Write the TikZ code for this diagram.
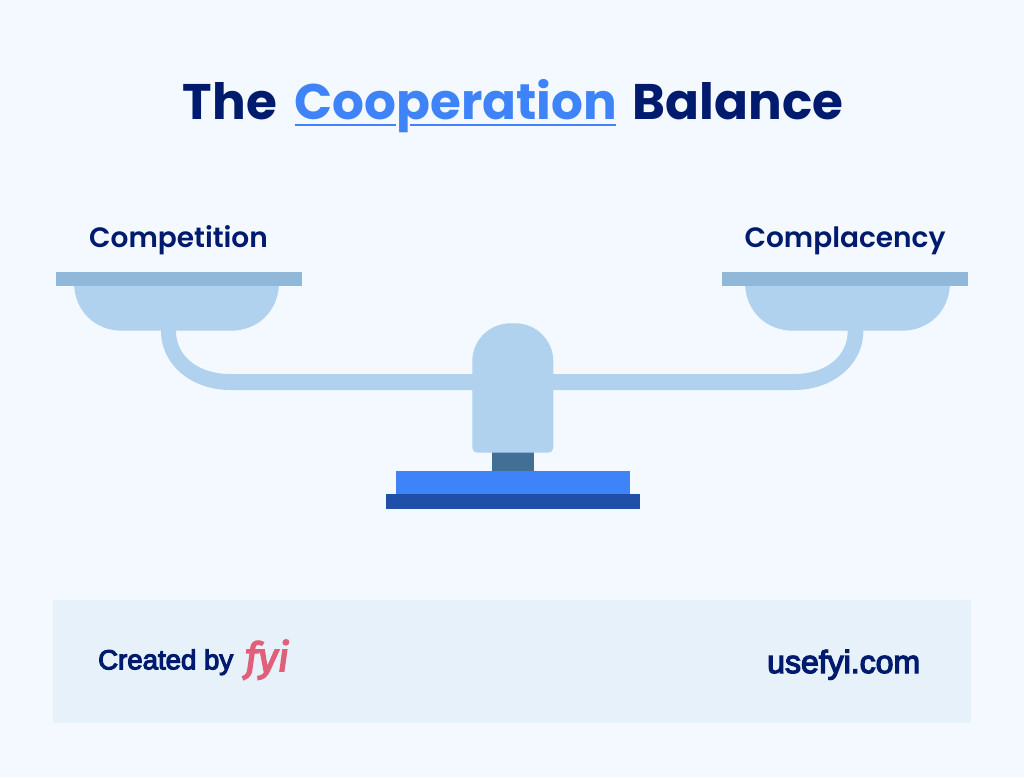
\documentclass[tikz,border=0pt]{standalone}
\usepackage{fontspec}
\setmainfont{Poppins}
\newfontfamily\labelfont{Poppins SemiBold}
\newfontfamily\footfont[FakeBold=4]{Liberation Sans}
\newfontfamily\fyifont[FakeBold=4]{Fira Sans}
\definecolor{bgc}{HTML}{F3F9FF}
\definecolor{footc}{HTML}{E6F1FA}
\definecolor{lightc}{HTML}{B0D2EE}
\definecolor{platec}{HTML}{91B8D9}
\definecolor{neckc}{HTML}{426F96}
\definecolor{bluec}{HTML}{3F83F8}
\definecolor{darkc}{HTML}{1F4FA8}
\definecolor{navyc}{HTML}{001A6E}
\definecolor{fyic}{HTML}{E0607A}
\newcommand{\undertext}[1]{\vtop{\hbox{\smash{#1}}\nointerlineskip\kern4.2pt\hbox{\vrule height 1.8pt width 101.7pt\kern14pt\vrule height 1.8pt width 205.3pt}}}
\tikzset{
  x=1pt,y=-1pt,
  label/.style={inner sep=0pt,text=navyc,anchor=base,font=\labelfont\fontsize{28}{32}\selectfont},
  foot/.style={inner sep=0pt,text=navyc,anchor=base west},
}
\begin{document}
\begin{tikzpicture}
\useasboundingbox (0,0) rectangle (1024,777);
\fill[bgc] (0,0) rectangle (1024,777);
\fill[footc] (53,600) rectangle (971,723);
% left arm
\fill[lightc] (161,328) -- (161,331) .. controls (161,365) and (192,390) .. (230,390) -- (480,390) -- (480,374) -- (230,374)
  .. controls (198,374) and (176,356) .. (176,331) -- (176,328) -- cycle;
% right arm
\fill[lightc] (863.3,328) -- (863.3,331) .. controls (863.3,365) and (832.3,390) .. (794.3,390) -- (545,390) -- (545,374) -- (794.3,374)
  .. controls (826.3,374) and (847.7,356) .. (847.7,331) -- (847.7,328) -- cycle;
% bowls
\fill[lightc] (74,284) .. controls (75,312) and (96,330.7) .. (122,330.7) -- (231,330.7) .. controls (257,330.7) and (278,312) .. (279,284) -- cycle;
\fill[lightc] (745,284) .. controls (746,312) and (767,330.7) .. (793,330.7) -- (902,330.7) .. controls (928,330.7) and (949,312) .. (950,284) -- cycle;
% plates
\fill[platec] (56,272) rectangle (301.7,286);
\fill[platec] (722.3,272) rectangle (967.7,286);
% base
\fill[neckc] (491.7,450) rectangle (534,472);
\fill[lightc] (472.3,361.3) .. controls (472.3,340.3) and (489.3,323.3) .. (510.3,323.3) -- (515.3,323.3)
  .. controls (536.3,323.3) and (553.3,340.3) .. (553.3,361.3)
  -- (553.3,447.7) .. controls (553.3,450.5) and (551.1,452.7) .. (548.3,452.7)
  -- (477.3,452.7) .. controls (474.5,452.7) and (472.3,450.5) .. (472.3,447.7) -- cycle;
\fill[bluec] (395.7,471.3) rectangle (630.3,495);
\fill[darkc] (385.7,494.3) rectangle (640,509);
% text
\node[inner sep=0pt,anchor=base,text=navyc,font=\fontsize{50}{58}\selectfont\bfseries] (title) at (513,119.5)
  {The\hspace{7pt} {\color{bluec}\undertext{Cooperation}}\hspace{5pt} Balance};
\node[label] (competition) at (178.5,247.5) {Competition};
\node[label] (complacency) at (845,247.5) {Complacency};
\node[foot,font=\footfont\fontsize{27.6}{32}\selectfont] (created) at (98,669.3) {Created by};
\node[inner sep=0pt,anchor=base west,text=fyic,font=\fyifont\itshape\fontsize{40}{44}\selectfont] (fyi) at (245,671) {fyi};
\node[foot,font=\footfont\fontsize{32}{36}\selectfont] (url) at (767,673) {usefyi.com};
\end{tikzpicture}
\end{document}
